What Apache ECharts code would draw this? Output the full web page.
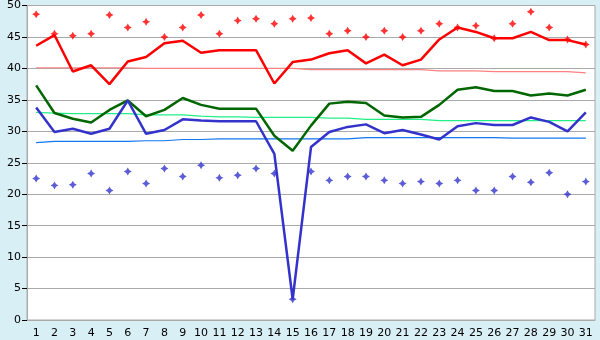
<!DOCTYPE html>
<html>
<head>
<meta charset="utf-8">
<script src="https://cdn.jsdelivr.net/npm/echarts@6/dist/echarts.min.js"></script>
<style>
  html, body { margin: 0; padding: 0; background: #d9eff6; }
  #chart { width: 600px; height: 340px; }
</style>
</head>
<body>
<div id="chart"></div>
<script>
// days of the month
var days = [];
for (var d = 1; d <= 31; d++) days.push(String(d));

// daily max points (red markers)
var maxPoints = [48.6, 45.5, 45.2, 45.5, 48.5, 46.5, 47.4, 45.0, 46.5, 48.5,
  45.5, 47.6, 47.9, 47.1, 47.9, 48.0, 45.5, 46.0, 45.0, 46.0,
  45.0, 46.0, 47.1, 46.5, 46.8, 44.8, 47.1, 49.0, 46.5, 44.6, 43.8];
// red line
var upperLine = [43.6, 45.3, 39.5, 40.5, 37.5, 41.1, 41.8, 44.0, 44.4, 42.5,
  42.9, 42.9, 42.9, 37.6, 41.0, 41.4, 42.4, 42.9, 40.8, 42.2,
  40.5, 41.4, 44.6, 46.5, 45.8, 44.8, 44.8, 45.8, 44.5, 44.5, 43.8];
// green line
var midLine = [37.3, 32.9, 32.0, 31.4, 33.4, 34.9, 32.4, 33.4, 35.3, 34.2,
  33.6, 33.6, 33.6, 29.3, 26.9, 30.9, 34.4, 34.7, 34.5, 32.5,
  32.2, 32.3, 34.2, 36.6, 37.0, 36.4, 36.4, 35.7, 36.0, 35.7, 36.6];
// blue line
var lowerLine = [33.8, 29.9, 30.4, 29.6, 30.4, 34.9, 29.6, 30.2, 31.9, 31.7,
  31.6, 31.6, 31.6, 26.4, 3.3, 27.5, 29.9, 30.7, 31.1, 29.7,
  30.2, 29.5, 28.7, 30.8, 31.3, 31.0, 31.0, 32.2, 31.5, 30.0, 33.0];
// daily min points (blue markers)
var minPoints = [22.5, 21.4, 21.5, 23.3, 20.6, 23.6, 21.7, 24.1, 22.8, 24.6,
  22.6, 23.0, 24.1, 23.3, 3.3, 23.6, 22.2, 22.8, 22.8, 22.2,
  21.7, 22.0, 21.7, 22.2, 20.6, 20.6, 22.8, 21.9, 23.4, 20.0, 22.0];
// reference lines
var upperRef = [40.1, 40.1, 40.1, 40.1, 40.1, 40.1, 40.0, 40.0, 40.0, 40.0,
  40.0, 40.0, 40.0, 40.0, 40.0, 39.8, 39.8, 39.8, 39.8, 39.8,
  39.8, 39.8, 39.6, 39.6, 39.6, 39.5, 39.5, 39.5, 39.5, 39.5, 39.3];
var midRef = [33.0, 32.9, 32.8, 32.8, 32.8, 32.8, 32.6, 32.6, 32.6, 32.4,
  32.3, 32.3, 32.2, 32.2, 32.2, 32.2, 32.1, 32.1, 31.9, 31.9,
  31.9, 31.9, 31.7, 31.7, 31.7, 31.7, 31.7, 31.7, 31.7, 31.7, 31.7];
var lowerRef = [28.2, 28.4, 28.4, 28.4, 28.4, 28.4, 28.5, 28.5, 28.7, 28.7,
  28.8, 28.8, 28.8, 28.8, 28.8, 28.8, 28.8, 28.8, 29.0, 29.0,
  29.0, 29.0, 29.0, 29.0, 29.0, 29.0, 28.9, 28.9, 28.9, 28.9, 28.9];

// fat four-point star marker
var star = "path://M3,0 L4.1,1.9 L6,3 L4.1,4.1 L3,6 L1.9,4.1 L0,3 L1.9,1.9 Z";

function refLine(data, color) {
  return {
    type: "line", data: data, symbol: "none", silent: true,
    lineStyle: { color: color, width: 1.2 }, z: 2
  };
}
function mainLine(data, color) {
  return {
    type: "line", data: data, symbol: "none", silent: true,
    lineStyle: { color: color, width: 2.5 }, z: 3
  };
}
function points(data, color) {
  return {
    type: "scatter", data: data, symbol: star, symbolSize: 8, silent: true,
    itemStyle: { color: color }, z: 4
  };
}

var chart = echarts.init(document.getElementById("chart"), null, { renderer: "canvas" });
chart.setOption({
  animation: false,
  backgroundColor: "#d9eff6",
  textStyle: { fontFamily: "DejaVu Sans" },
  grid: {
    left: 27, right: 5, top: 5, bottom: 20,
    show: true, backgroundColor: "#ffffff", borderColor: "#aaaaaa", borderWidth: 1
  },
  xAxis: {
    type: "category",
    data: days,
    boundaryGap: true,
    axisLine: { lineStyle: { color: "#aaaaaa", width: 1 } },
    axisTick: { alignWithLabel: true, length: 6, lineStyle: { color: "#000000" } },
    axisLabel: { color: "#000000", fontSize: 11, margin: 8, interval: 0 },
    splitLine: { show: false }
  },
  yAxis: {
    type: "value",
    min: 0, max: 50, interval: 5,
    axisLine: { show: true, lineStyle: { color: "#aaaaaa", width: 1 } },
    axisTick: { show: true, length: 5, lineStyle: { color: "#000000" } },
    axisLabel: { color: "#000000", fontSize: 11, margin: 6 },
    splitLine: { lineStyle: { color: "#aaaaaa", width: 1 } }
  },
  series: [
    refLine(upperRef, "#ff8080"),
    refLine(midRef, "#22ee88"),
    refLine(lowerRef, "#1177ee"),
    mainLine(upperLine, "#ff0000"),
    mainLine(midLine, "#006600"),
    mainLine(lowerLine, "#3333cc"),
    points(maxPoints, "#ff0000"),
    points(minPoints, "#3333cc")
  ]
});
</script>
</body>
</html>
